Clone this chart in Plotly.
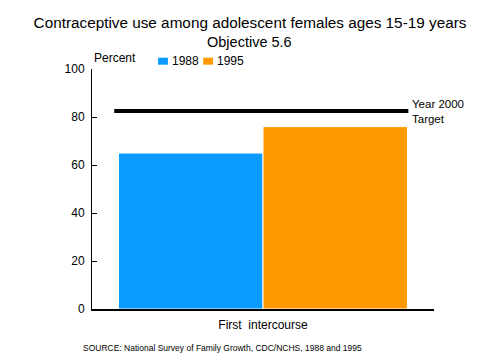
import plotly.graph_objects as go

categories = ["First\u00a0\u00a0intercourse"]
years = ["1988", "1995"]
values_1988 = [65]
values_1995 = [76]
target_value = 82.5
y_ticks = [0, 20, 40, 60, 80, 100]

colors = {"1988": "#0A9BFF", "1995": "#FF9A00"}
FONT = "Liberation Sans, Arial, sans-serif"

fig = go.Figure()
for yr, vals in zip(years, [values_1988, values_1995]):
    fig.add_trace(go.Bar(
        x=categories, y=vals, name=yr,
        marker=dict(color=colors[yr], line=dict(color="white", width=1)),
        showlegend=False, hoverinfo="skip",
    ))

# target line
fig.add_shape(type="line", xref="x domain", yref="y",
              x0=0.065, x1=0.925, y0=target_value, y1=target_value,
              line=dict(color="black", width=4))

fig.add_annotation(text="Year 2000<br>Target", xref="paper", yref="y",
                   x=0.93, y=target_value, xanchor="left", yanchor="middle",
                   showarrow=False, align="left",
                   font=dict(family=FONT, size=11.5, color="black"))

# compact legend (swatch + label)
legend_x = [0.193, 0.325]
for yr, lx in zip(years, legend_x):
    fig.add_shape(type="rect", xref="paper", yref="paper",
                  x0=lx, x1=lx + 0.029, y0=1.0 + 0.018, y1=1.0 + 0.047,
                  fillcolor=colors[yr], line=dict(width=0))
    fig.add_annotation(text=yr, xref="paper", yref="paper",
                       x=lx + 0.035, y=1.032, xanchor="left", yanchor="middle",
                       showarrow=False,
                       font=dict(family=FONT, size=12, color="black"))

fig.add_annotation(text="Percent", xref="paper", yref="paper",
                   x=0.0, y=1.0, xanchor="left", yanchor="bottom", yshift=2,
                   showarrow=False, font=dict(family=FONT, size=12, color="black"))

fig.add_annotation(text="Objective 5.6", xref="paper", yref="paper",
                   x=0.46, y=1.0, xanchor="center", yanchor="bottom", yshift=17,
                   showarrow=False, font=dict(family=FONT, size=14.5, color="black"))

fig.add_annotation(text="SOURCE: National Survey of Family Growth, CDC/NCHS, 1988 and 1995",
                   xref="paper", yref="paper", x=-0.033, y=0, xanchor="left",
                   yanchor="top", yshift=-32, showarrow=False,
                   font=dict(family=FONT, size=8.5, color="black"))

fig.update_layout(
    width=500, height=364,
    margin=dict(l=92, r=66, t=69, b=55),
    paper_bgcolor="white", plot_bgcolor="white",
    title=dict(text="Contraceptive use among adolescent females ages 15-19 years",
               x=0.5, xanchor="center", y=0.937, yanchor="middle",
               font=dict(family=FONT, size=15.3, color="black")),
    barmode="group", bargap=0.155, bargroupgap=0,
    showlegend=False, hovermode=False,
    font=dict(family=FONT, size=12, color="black"),
)
fig.update_xaxes(showline=True, linecolor="black", linewidth=1.5, ticks="",
                 showgrid=False, tickfont=dict(family=FONT, size=12),
                 ticklabelstandoff=4)
fig.update_yaxes(range=[0, 100], tickvals=y_ticks, showline=True, linecolor="black",
                 linewidth=1, ticks="inside", ticklen=5, tickcolor="black",
                 showgrid=False, zeroline=False, tickfont=dict(family=FONT, size=12),
                 ticklabelstandoff=4)

fig.write_html("out.html", config={"displayModeBar": False},
               post_script="document.body.style.margin='0';")
